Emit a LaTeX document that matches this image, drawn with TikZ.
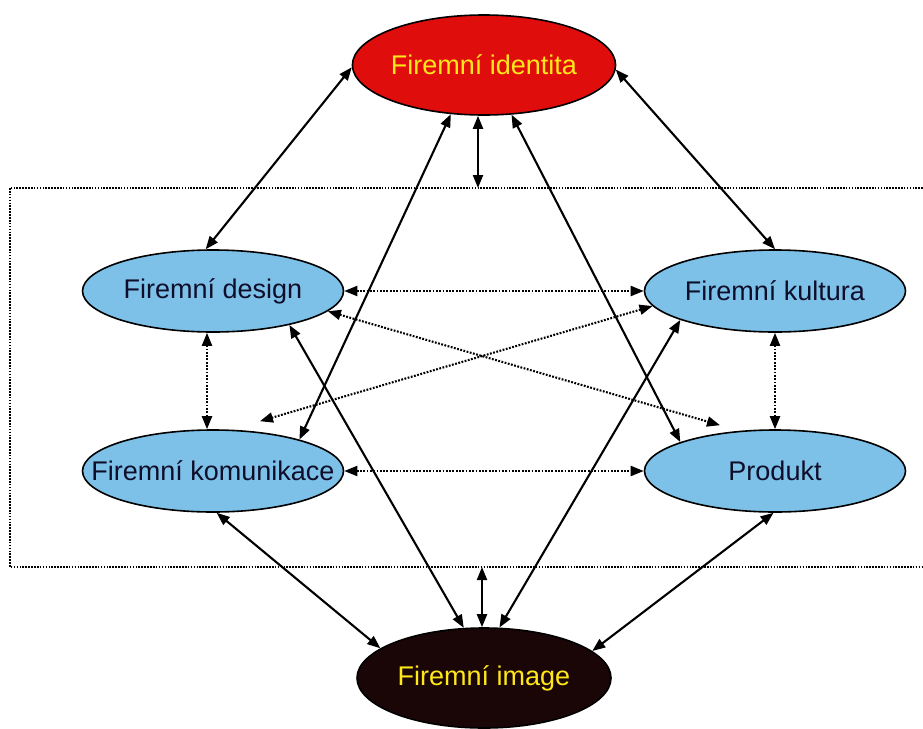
\documentclass[tikz,border=0pt]{standalone}
\usepackage{fontspec}
\setmainfont{Liberation Sans}
\usetikzlibrary{shapes.geometric,arrows.meta}
\definecolor{idred}{HTML}{E00D0D}
\definecolor{idyellow}{HTML}{FFE81A}
\definecolor{imgdark}{HTML}{1A0606}
\definecolor{sky}{HTML}{7DC1E8}
\definecolor{navytext}{HTML}{0E0E2A}
\tikzset{
  bigell/.style={ellipse, draw=black, line width=1.6pt, minimum width=254pt, minimum height=100pt, inner sep=0pt, font=\fontsize{27}{30}\selectfont, text=idyellow},
  blueell/.style={ellipse, draw=black, line width=1.6pt, fill=sky, minimum width=261pt, minimum height=82pt, inner sep=0pt},
  bluetext/.style={font=\fontsize{27}{30}\selectfont, text=navytext, inner sep=0pt},
  solidlink/.style={line width=2.1pt, {Triangle[length=13pt,width=10pt]}-{Triangle[length=13pt,width=10pt]}},
  dotlink/.style={line width=2.1pt, dash pattern=on 1.8pt off 1.5pt, {Triangle[length=13pt,width=10pt]}-{Triangle[length=13pt,width=10pt]}},
  frame/.style={line width=1.8pt, dash pattern=on 1.6pt off 1.3pt}
}
\begin{document}
\begin{tikzpicture}[x=1pt,y=-1pt]
\clip (0,0) rectangle (923,728);
\fill[white] (0,0) rectangle (923,728);
% frame
\draw[frame] (10,188) rectangle (940,567);
\coordinate (ftop) at (478,188);
\coordinate (fbot) at (482,567);
% nodes
\node[bigell, fill=idred] (id) at (484,65) {Firemní identita};
\node[bigell, fill=imgdark] (img) at (484,678) {Firemní image};
\node[blueell] (des) at (213,291) {};
\node[bluetext] (dest) at (des.center) {Firemní design};
\node[blueell] (kul) at (775,291) {};
\node[bluetext] (kult) at (kul.center) {Firemní kultura};
\node[blueell] (kom) at (213,471) {};
\node[bluetext] (komt) at (kom.center) {Firemní komunikace};
\node[blueell] (pro) at (775,471) {};
\node[bluetext] (prot) at (pro.center) {Produkt};
% solid links
\draw[solidlink] (id.181) -- (des.100);
\draw[solidlink] (id.358) -- (kul.90);
\draw[solidlink] (id.236) -- (kom.20);
\draw[solidlink] (id.south -| ftop) -- (ftop);
\draw[solidlink] (id.299) -- (pro.163);
\draw[solidlink] (des.336) -- (img.112);
\draw[solidlink] (kul.197) -- (img.73);
\draw[solidlink] (kom.275) -- (img.164);
\draw[solidlink] (pro.268) -- (img.14);
\draw[solidlink] (fbot) -- (img.north -| fbot);
% dotted links
\draw[dotlink] (des.0) -- (kul.180);
\draw[dotlink] (kom.0) -- (pro.180);
\draw[dotlink] ([xshift=-6pt]des.south) -- ([xshift=-6pt]kom.north);
\draw[dotlink] (kul.south) -- (pro.north);
\draw[dotlink] (des.350) -- ([shift={(-55pt,4pt)}]pro.north);
\draw[dotlink] (kul.187) -- ([shift={(47pt,8pt)}]kom.north);
\end{tikzpicture}
\end{document}
